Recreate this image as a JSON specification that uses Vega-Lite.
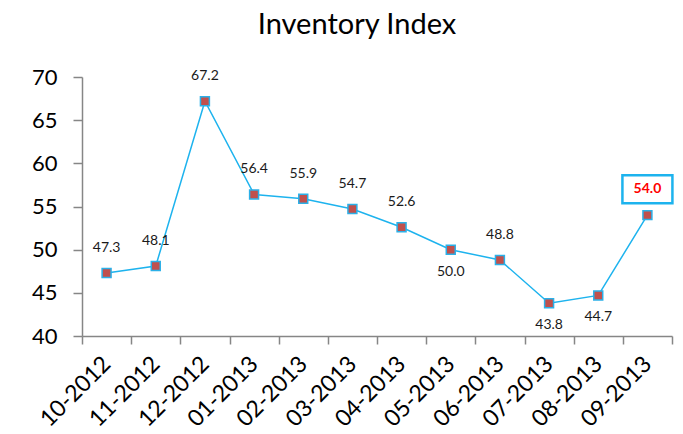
{
  "$schema": "https://vega.github.io/schema/vega-lite/v6.json",
  "width": 590,
  "height": 259,
  "autosize": {"type": "none"},
  "padding": {"left": 82, "top": 77, "right": 11, "bottom": 98},
  "title": {"text": "Inventory Index", "fontSize": 29, "font": "Lato", "fontWeight": "normal", "color": "#000000", "offset": 26, "dx": -20},
  "config": {
    "view": {"stroke": null},
    "font": "Lato",
    "axis": {"domainColor": "#868686", "tickColor": "#868686", "domainWidth": 1.5, "tickWidth": 1.5, "grid": false, "labelColor": "#000000", "title": null}
  },
  "data": {"values": [
    {"month": "10-2012", "value": 47.3},
    {"month": "11-2012", "value": 48.1},
    {"month": "12-2012", "value": 67.2},
    {"month": "01-2013", "value": 56.4},
    {"month": "02-2013", "value": 55.9},
    {"month": "03-2013", "value": 54.7},
    {"month": "04-2013", "value": 52.6},
    {"month": "05-2013", "value": 50.0},
    {"month": "06-2013", "value": 48.8},
    {"month": "07-2013", "value": 43.8},
    {"month": "08-2013", "value": 44.7},
    {"month": "09-2013", "value": 54.0}
  ]},
  "encoding": {
    "x": {"field": "month", "type": "nominal", "sort": null,
      "scale": {"type": "band", "paddingInner": 0, "paddingOuter": 0},
      "axis": {"labelAngle": -45, "labelFontSize": 23, "labelAlign": "right", "labelBaseline": "middle", "tickBand": "extent", "tickSize": 8, "labelPadding": 16}},
    "y": {"field": "value", "type": "quantitative",
      "scale": {"domain": [40, 70], "nice": false, "zero": false},
      "axis": {"values": [40, 45, 50, 55, 60, 65, 70], "labelFontSize": 22, "tickSize": 9, "labelPadding": 16}}
  },
  "layer": [
    {"mark": {"type": "line", "color": "#1DB3EE", "strokeWidth": 1.5}},
    {"mark": {"type": "point", "shape": "square", "filled": true, "size": 80, "fill": "#C0504D", "stroke": "#2BB0E8", "strokeWidth": 1.5, "opacity": 1}},
    {"transform": [{"filter": "indexof(['05-2013','07-2013','08-2013','09-2013'], datum.month) < 0"}],
     "mark": {"type": "text", "dy": -25, "fontSize": 14, "color": "#1a1a1a"},
     "encoding": {"text": {"field": "value", "type": "quantitative", "format": ".1f"}}},
    {"transform": [{"filter": "indexof(['05-2013','07-2013','08-2013'], datum.month) >= 0"}],
     "mark": {"type": "text", "dy": 22, "fontSize": 14, "color": "#1a1a1a"},
     "encoding": {"text": {"field": "value", "type": "quantitative", "format": ".1f"}}},
    {"transform": [{"filter": "datum.month === '09-2013'"}],
     "mark": {"type": "point", "shape": "M-1,-0.56L1,-0.56L1,0.56L-1,0.56Z", "size": 2500, "filled": false, "fill": "#ffffff", "fillOpacity": 1, "stroke": "#1DB3EE", "strokeWidth": 2.5, "opacity": 1},
     "encoding": {"yOffset": {"value": -26}}},
    {"transform": [{"filter": "datum.month === '09-2013'"}],
     "mark": {"type": "text", "dy": -26, "fontSize": 14, "fontWeight": "bold", "color": "#FF0000"},
     "encoding": {"text": {"field": "value", "type": "quantitative", "format": ".1f"}}}
  ]
}
